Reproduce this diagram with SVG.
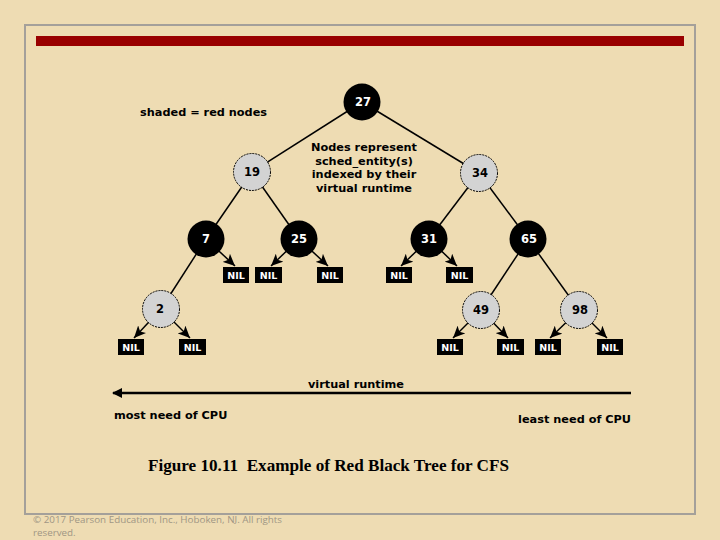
<svg xmlns="http://www.w3.org/2000/svg" width="720" height="540" viewBox="0 0 720 540">
<style>
.num{font-family:"DejaVu Sans",Verdana,sans-serif;font-weight:bold;font-size:11.5px;text-anchor:middle}
.red circle{fill:#d3d3d3;stroke:#000;stroke-width:1;stroke-dasharray:2 1}
.red text{fill:#000}
.blk circle{fill:#000}
.blk text{fill:#fff}
.nil rect{fill:#000}
.nil text{fill:#fff;font-family:"DejaVu Sans",Verdana,sans-serif;font-weight:bold;font-size:9.5px;text-anchor:middle}
.lbl{font-family:"DejaVu Sans",Verdana,sans-serif;font-weight:bold;font-size:11.3px;fill:#000}
.edge{stroke:#000;stroke-width:1.5;fill:none}
.arr{stroke:#000;stroke-width:1.5;fill:none;marker-end:url(#ah)}
.copy{font-family:"Open Sans","Liberation Sans",sans-serif;font-size:9.8px;fill:#a09684}
</style>
<defs>
<marker id="ah" markerUnits="userSpaceOnUse" markerWidth="12" markerHeight="11" refX="12" refY="5.5" orient="auto">
<path d="M0,0 L12,5.5 L0,11 L3,5.5 z" fill="#000"/>
</marker>
<marker id="ah2" markerUnits="userSpaceOnUse" markerWidth="10" markerHeight="10" refX="9" refY="5" orient="auto">
<path d="M0,0 L10,5 L0,10 z" fill="#000"/>
</marker>
</defs>
<rect x="0" y="0" width="720" height="540" fill="#eedcb3"/>
<rect x="25" y="25" width="670" height="489" fill="none" stroke="#a4a09a" stroke-width="2"/>
<rect x="36" y="36" width="648" height="10" fill="#990000"/>

<g id="connectors">
<line class="edge" x1="362" y1="102" x2="252" y2="172"/>
<line class="edge" x1="362" y1="102" x2="479" y2="173"/>
<line class="edge" x1="252" y1="172" x2="206" y2="239"/>
<line class="edge" x1="252" y1="172" x2="299" y2="239"/>
<line class="edge" x1="479" y1="173" x2="429" y2="239"/>
<line class="edge" x1="479" y1="173" x2="528" y2="239"/>
<line class="edge" x1="206" y1="239" x2="161" y2="309"/>
<line class="edge" x1="528" y1="239" x2="481" y2="310"/>
<line class="edge" x1="528" y1="239" x2="579" y2="310"/>
<line class="arr" x1="206" y1="239" x2="235" y2="266"/>
<line class="arr" x1="299" y1="239" x2="271" y2="266"/>
<line class="arr" x1="299" y1="239" x2="328" y2="266"/>
<line class="arr" x1="429" y1="239" x2="401" y2="266"/>
<line class="arr" x1="429" y1="239" x2="457" y2="266"/>
<line class="arr" x1="161" y1="309" x2="134" y2="338"/>
<line class="arr" x1="161" y1="309" x2="190" y2="338"/>
<line class="arr" x1="481" y1="310" x2="453" y2="338"/>
<line class="arr" x1="481" y1="310" x2="508" y2="338"/>
<line class="arr" x1="579" y1="310" x2="550" y2="338"/>
<line class="arr" x1="579" y1="310" x2="607" y2="338"/>
<line x1="631" y1="393" x2="113" y2="393" stroke="#000" stroke-width="2.5" marker-end="url(#ah2)"/>
</g>

<g id="n27" class="blk"><circle cx="362" cy="102" r="18.5"/><text class="num" x="363" y="106">27</text></g>
<g id="n19" class="red"><circle cx="252" cy="172" r="18.5"/><text class="num" x="252" y="176">19</text></g>
<g id="n34" class="red"><circle cx="479" cy="173" r="18.5"/><text class="num" x="480" y="177">34</text></g>
<g id="n7" class="blk"><circle cx="206" cy="239" r="18.5"/><text class="num" x="206" y="243">7</text></g>
<g id="n25" class="blk"><circle cx="299" cy="239" r="18.5"/><text class="num" x="299" y="243">25</text></g>
<g id="n31" class="blk"><circle cx="429" cy="239" r="18.5"/><text class="num" x="429" y="243">31</text></g>
<g id="n65" class="blk"><circle cx="528" cy="239" r="18.5"/><text class="num" x="529" y="243">65</text></g>
<g id="n2" class="red"><circle cx="161" cy="309" r="18.5"/><text class="num" x="160" y="313">2</text></g>
<g id="n49" class="red"><circle cx="481" cy="310" r="18.5"/><text class="num" x="481" y="314">49</text></g>
<g id="n98" class="red"><circle cx="579" cy="310" r="18.5"/><text class="num" x="580" y="314">98</text></g>

<g id="nil1" class="nil"><rect x="223" y="267" width="26" height="16"/><text x="236" y="278.5">NIL</text></g>
<g id="nil2" class="nil"><rect x="255" y="267" width="27" height="16"/><text x="268.5" y="278.5">NIL</text></g>
<g id="nil3" class="nil"><rect x="317" y="267" width="26" height="16"/><text x="330" y="278.5">NIL</text></g>
<g id="nil4" class="nil"><rect x="386" y="267" width="26" height="16"/><text x="399" y="278.5">NIL</text></g>
<g id="nil5" class="nil"><rect x="446" y="267" width="27" height="16"/><text x="459.5" y="278.5">NIL</text></g>
<g id="nil6" class="nil"><rect x="118" y="339" width="26" height="16"/><text x="131" y="350.5">NIL</text></g>
<g id="nil7" class="nil"><rect x="179" y="339" width="27" height="16"/><text x="192.5" y="350.5">NIL</text></g>
<g id="nil8" class="nil"><rect x="437" y="339" width="26" height="16"/><text x="450" y="350.5">NIL</text></g>
<g id="nil9" class="nil"><rect x="497" y="339" width="27" height="16"/><text x="510.5" y="350.5">NIL</text></g>
<g id="nil10" class="nil"><rect x="535" y="339" width="26" height="16"/><text x="548" y="350.5">NIL</text></g>
<g id="nil11" class="nil"><rect x="597" y="339" width="26" height="16"/><text x="610" y="350.5">NIL</text></g>

<text class="lbl" x="140" y="116">shaded = red nodes</text>
<text class="lbl" text-anchor="middle" x="364" y="151">Nodes represent</text>
<text class="lbl" text-anchor="middle" x="364" y="165">sched_entity(s)</text>
<text class="lbl" text-anchor="middle" x="364" y="178">indexed by their</text>
<text class="lbl" text-anchor="middle" x="364" y="192">virtual runtime</text>

<text class="lbl" text-anchor="middle" x="356" y="388">virtual runtime</text>
<text class="lbl" x="114" y="419">most need of CPU</text>
<text class="lbl" text-anchor="end" x="631" y="423">least need of CPU</text>

<text x="148" y="471" font-family="Liberation Serif, Times New Roman, serif" font-weight="bold" font-size="17.5" textLength="361" lengthAdjust="spacingAndGlyphs" xml:space="preserve">Figure 10.11  Example of Red Black Tree for CFS</text>

<text class="copy" x="33" y="523" textLength="249" lengthAdjust="spacingAndGlyphs">© 2017 Pearson Education, Inc., Hoboken, NJ. All rights</text>
<text class="copy" x="33" y="536">reserved.</text>
</svg>
